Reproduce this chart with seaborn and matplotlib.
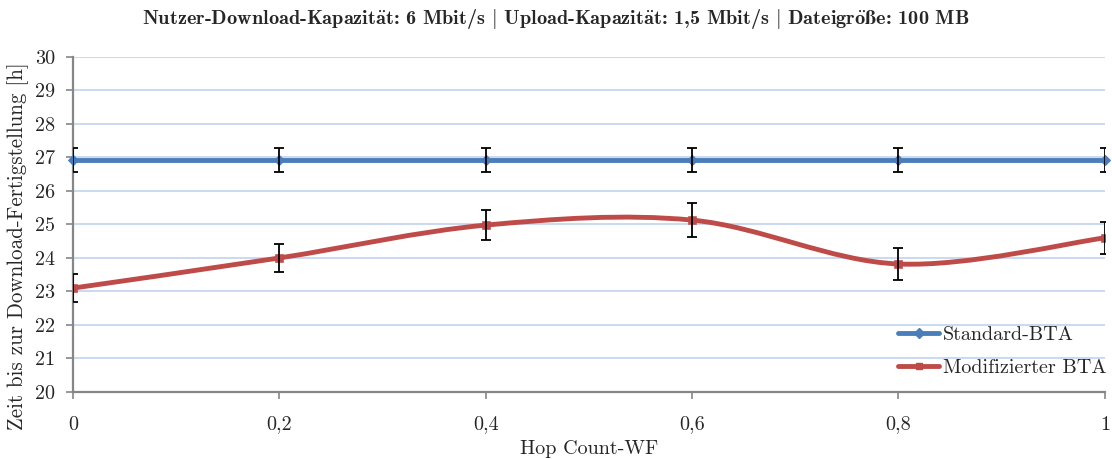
import numpy as np
import pandas as pd
import matplotlib
matplotlib.use("Agg")
import matplotlib.pyplot as plt
from matplotlib.path import Path
from matplotlib.patches import PathPatch
from matplotlib.lines import Line2D
import seaborn as sns

# Messwerte
hop_count_wf = [0.0, 0.2, 0.4, 0.6, 0.8, 1.0]
standard_bta = [26.93, 26.93, 26.93, 26.93, 26.93, 26.93]
standard_err = [0.36, 0.36, 0.36, 0.36, 0.36, 0.36]
modified_bta = [23.1, 24.0, 24.98, 25.13, 23.82, 24.6]
modified_err = [0.42, 0.43, 0.45, 0.5, 0.47, 0.47]
x_tick_labels = ["0", "0,2", "0,4", "0,6", "0,8", "1"]
y_ticks = list(range(20, 31))
series_names = ["Standard-BTA", "Modifizierter BTA"]

# Umlaute, ß und | über Mathtext (Computer-Modern-Schrift kennt sie nicht direkt)
title = (r"Nutzer-Download-Kapazit$\ddot{\mathbf{a}}$t: 6 Mbit/s $|$ "
         r"Upload-Kapazit$\ddot{\mathbf{a}}$t: 1,5 Mbit/s $|$ "
         r"Dateigr$\ddot{\mathbf{o}}$$\mathbf{ß}$e: 100 MB")
blue = "#4a7ebb"
red = "#be4b48"

sns.set_theme(style="white")
plt.rcParams["font.family"] = ["cmr10", "DejaVu Serif"]
plt.rcParams["mathtext.fontset"] = "cm"
plt.rcParams["axes.formatter.use_mathtext"] = True

fs = 14.5
fig = plt.figure(figsize=(11.12, 4.59), dpi=100)
ax = fig.add_axes([0.0656, 0.146, 0.928, 0.73])

for y in y_ticks:
    ax.axhline(y, color="#bdd0ee", lw=1.1, zorder=0)


def smooth_path(xs, ys, tension=1 / 6):
    """Bezier path through the points (Catmull-Rom style smoothing)."""
    pts = np.column_stack([xs, ys])
    n = len(pts)
    verts = [pts[0]]
    codes = [Path.MOVETO]
    for i in range(n - 1):
        p0 = pts[i - 1] if i > 0 else pts[i]
        p1 = pts[i]
        p2 = pts[i + 1]
        p3 = pts[i + 2] if i + 2 < n else pts[i + 1]
        c1 = p1 + (p2 - p0) * tension
        c2 = p2 - (p3 - p1) * tension
        verts += [c1, c2, p2]
        codes += [Path.CURVE4] * 3
    return Path(verts, codes)


df_std = pd.DataFrame({"x": hop_count_wf, "y": standard_bta})
df_mod = pd.DataFrame({"x": hop_count_wf, "y": modified_bta})

lw = 3.5
sns.lineplot(data=df_std, x="x", y="y", ax=ax, color=blue, lw=lw,
             marker="D", markersize=5, markeredgecolor=blue, zorder=3,
             clip_on=False)
ax.errorbar(hop_count_wf, standard_bta, yerr=standard_err, fmt="none",
            ecolor="black", elinewidth=1.3, capsize=3.8, capthick=1.3, zorder=4)

ax.add_patch(PathPatch(smooth_path(hop_count_wf, modified_bta), facecolor="none",
                       edgecolor=red, lw=lw, capstyle="butt", zorder=3))
sns.scatterplot(data=df_mod, x="x", y="y", ax=ax, color=red, marker="s",
                s=28, edgecolor=red, zorder=3)
ax.errorbar(hop_count_wf, modified_bta, yerr=modified_err, fmt="none",
            ecolor="black", elinewidth=1.3, capsize=3.8, capthick=1.3, zorder=4)

ax.set_xlim(0, 1)
ax.set_ylim(20, 30)
ax.set_xticks(hop_count_wf)
ax.set_xticklabels(x_tick_labels)
ax.set_yticks(y_ticks)
ax.set_yticklabels([str(v) for v in y_ticks])
ax.tick_params(axis="both", labelsize=fs, direction="out", length=5,
               color="#868686", width=1.2, left=True, bottom=True)
ax.tick_params(axis="y", pad=8)
ax.tick_params(axis="x", pad=12)
for side in ["top", "right"]:
    ax.spines[side].set_visible(False)
for side in ["left", "bottom"]:
    ax.spines[side].set_color("#868686")
    ax.spines[side].set_linewidth(1.6)

ax.set_xlabel("Hop Count-WF", fontsize=fs, labelpad=5)
ax.set_ylabel("Zeit bis zur Download-Fertigstellung [h]", fontsize=15.1)
ax.yaxis.set_label_coords(-0.043, 0.436)
fig.suptitle(title, fontsize=14.6, y=0.984, family=["cmb10", "DejaVu Serif"])

handles = [
    Line2D([], [], color=blue, lw=lw, marker="D", markersize=5),
    Line2D([], [], color=red, lw=lw, marker="s", markersize=5),
]
ax.legend(handles, series_names, loc="lower left",
          frameon=False, fontsize=fs, handlelength=2.0, handletextpad=0.2,
          borderpad=0.0, borderaxespad=0.0, labelspacing=0.75,
          bbox_to_anchor=(0.80, 0.045))

fig.savefig("out.png", dpi=100)
